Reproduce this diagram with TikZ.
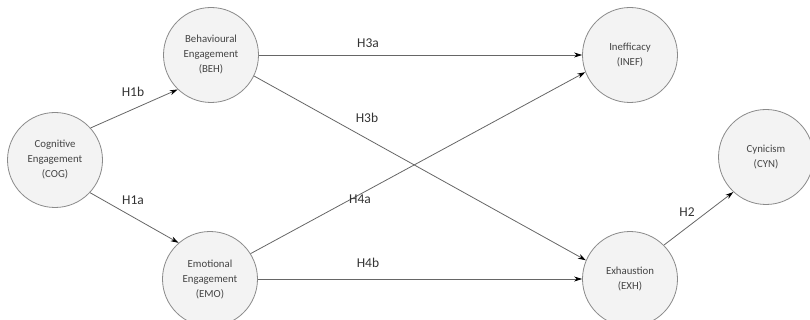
\documentclass[tikz,border=0pt]{standalone}
\usepackage{fontspec}
\setmainfont{Carlito}
\usetikzlibrary{arrows.meta}
\definecolor{nodefill}{HTML}{F3F3F3}
\definecolor{nodeline}{HTML}{8A8A8A}
\definecolor{edgeline}{HTML}{666666}
\definecolor{nodetext}{HTML}{444444}
\definecolor{labtext}{HTML}{333333}
\tikzset{
  construct/.style={circle, draw=nodeline, fill=nodefill, line width=0.8pt,
    minimum size=95pt, inner sep=0pt, align=center, text=nodetext,
    font=\fontsize{10.8}{15}\selectfont},
  path/.style={draw=edgeline, line width=0.8pt,
    -{Stealth[length=8pt,width=5pt,inset=2.5pt,black]}},
  hyp/.style={text=labtext, font=\fontsize{13.5}{15}\selectfont}
}
\begin{document}
\begin{tikzpicture}[x=1pt,y=-1pt]
\useasboundingbox (0,0) rectangle (810,320);
% constructs
\node[construct] (cog)  at (55,160)  {Cognitive\\Engagement\\(COG)};
\node[construct] (beh)  at (211,55)  {Behavioural\\Engagement\\(BEH)};
\node[construct] (emo)  at (210,279) {Emotional\\Engagement\\(EMO)};
\node[construct] (inef) at (630,55)  {Inefficacy\\(INEF)};
\node[construct] (exh)  at (630,279) {Exhaustion\\(EXH)};
\node[construct] (cyn)  at (766,157) {Cynicism\\(CYN)};
% hypothesised paths
\draw[path] (cog.42)  -- (beh.226);
\draw[path] (cog.317) -- (emo.131);
\draw[path] (beh.east) -- (inef.west);
\draw[path] (beh.334) -- (exh.157);
\draw[path] (emo.32)  -- (inef.201);
\draw[path] (emo.east) -- (exh.west);
\draw[path] (exh.45)  -- (cyn.227);
% path labels
\node[hyp] (h1b) at (133,92)  {H1b};
\node[hyp] (h1a) at (133,200) {H1a};
\node[hyp] (h3a) at (368,43)  {H3a};
\node[hyp] (h3b) at (367,118) {H3b};
\node[hyp] (h4a) at (360,199) {H4a};
\node[hyp] (h4b) at (368,263) {H4b};
\node[hyp] (h2)  at (687,212) {H2};
\end{tikzpicture}
\end{document}
